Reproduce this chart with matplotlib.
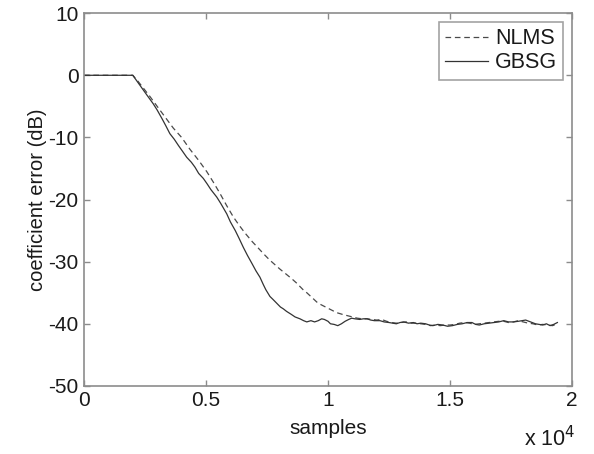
import matplotlib
matplotlib.use("Agg")
import matplotlib.pyplot as plt
from matplotlib.ticker import FuncFormatter

plt.rcParams['font.family'] = ['Liberation Sans', 'DejaVu Sans']
plt.rcParams['axes.unicode_minus'] = False

# samples (x1000) and coefficient error in dB
gbsg_k = [0, 2.0, 2.2, 2.4, 2.6, 2.84, 3.0, 3.2, 3.35, 3.52, 3.7, 3.87, 4.05, 4.21,
          4.4, 4.55, 4.7, 4.89, 5.05, 5.2, 5.32, 5.44, 5.6, 5.85, 6.0, 6.2, 6.35,
          6.53, 6.7, 6.87, 7.05, 7.21, 7.35, 7.45, 7.62, 7.75, 7.9, 8.05, 8.17,
          8.3, 8.5, 8.65, 8.85, 9.0, 9.13, 9.3, 9.45, 9.6, 9.74, 9.85, 10.0, 10.1,
          10.25, 10.4, 10.55, 10.7, 10.85, 10.97, 11.1, 11.3, 11.45, 11.6, 11.75,
          11.9, 12.13, 12.3, 12.5, 12.65, 12.8, 12.95, 13.1, 13.3, 13.5, 13.65,
          13.8, 14.0, 14.15, 14.3, 14.5, 14.7, 14.9, 15.1, 15.3, 15.5, 15.7, 15.9,
          16.05, 16.2, 16.4, 16.6, 16.8, 17.0, 17.2, 17.4, 17.6, 17.8, 18.1, 18.3,
          18.5, 18.65, 18.8, 18.95, 19.1, 19.25, 19.4]
gbsg_db = [0, 0, -1.1, -2.2, -3.3, -4.6, -5.6, -7.0, -8.1, -9.4, -10.3, -11.3, -12.3,
           -13.2, -14.0, -14.8, -15.8, -16.6, -17.5, -18.4, -19.0, -19.6, -20.6,
           -22.3, -23.6, -25.0, -26.2, -27.7, -29.0, -30.2, -31.5, -32.5, -33.7,
           -34.5, -35.6, -36.1, -36.7, -37.3, -37.6, -38.0, -38.5, -38.9, -39.2,
           -39.5, -39.7, -39.5, -39.7, -39.5, -39.2, -39.3, -39.6, -40.0, -40.1,
           -40.3, -40.0, -39.6, -39.3, -39.1, -39.2, -39.3, -39.2, -39.2, -39.4,
           -39.5, -39.5, -39.7, -39.8, -39.9, -40.0, -39.8, -39.7, -39.9, -39.8,
           -40.0, -39.9, -40.0, -40.2, -40.3, -40.1, -40.2, -40.4, -40.3, -40.1,
           -40.0, -39.8, -39.8, -40.1, -40.2, -40.0, -39.9, -39.8, -39.7, -39.5,
           -39.7, -39.7, -39.6, -39.4, -39.7, -40.0, -40.1, -40.2, -40.0, -40.3,
           -40.1, -39.8]

nlms_k = [0, 2.0, 2.2, 2.4, 2.7, 2.98, 3.3, 3.66, 4.0, 4.34, 4.7, 5.03, 5.3, 5.57,
          5.85, 6.12, 6.35, 6.6, 6.9, 7.21, 7.4, 7.6, 7.8, 8.03, 8.25, 8.5, 8.7,
          8.85, 9.0, 9.13, 9.35, 9.54, 9.7, 9.9, 10.1, 10.35, 10.6, 10.9, 11.2,
          11.4, 11.6, 11.8, 12.0, 12.2, 12.4, 12.6, 12.8, 13.0, 13.2, 13.4, 13.6,
          13.8, 14.0, 14.2, 14.4, 14.6, 14.8, 15.0, 15.2, 15.4, 15.6, 15.8, 16.0,
          16.2, 16.4, 16.6, 16.8, 17.0, 17.2, 17.4, 17.6, 17.8, 18.0, 18.2, 18.4,
          18.6, 18.8, 19.0, 19.2, 19.4]
nlms_db = [0, 0, -0.9, -1.9, -3.4, -4.9, -6.6, -8.5, -10.0, -11.9, -13.7, -15.5,
           -17.2, -19.0, -21.0, -22.8, -24.1, -25.4, -26.8, -28.1, -28.9, -29.7,
           -30.4, -31.2, -31.9, -32.7, -33.4, -34.0, -34.6, -35.0, -35.8, -36.5,
           -36.9, -37.3, -37.7, -38.2, -38.5, -38.8, -39.1, -39.2, -39.2, -39.3,
           -39.4, -39.3, -39.6, -39.8, -39.9, -39.8, -39.7, -39.9, -39.9, -40.0,
           -40.1, -40.3, -40.2, -40.3, -40.2, -40.2, -40.1, -39.9, -39.8, -39.9,
           -40.1, -40.0, -39.9, -39.8, -39.7, -39.6, -39.6, -39.8, -39.7, -39.5,
           -39.7, -39.9, -40.0, -40.2, -40.1, -40.2, -40.3, -40.0]

xticks = [0, 5000, 10000, 15000, 20000]
yticks = [-50, -40, -30, -20, -10, 0, 10]

axis_gray = '#8c8c8c'
text_col = '#1a1a1a'

fig = plt.figure(figsize=(5.94, 4.54), dpi=100)
ax = fig.add_axes([0.1414, 0.150, 0.8216, 0.821])

ax.plot([k * 1000 for k in nlms_k], nlms_db, color='#4a4a4a', lw=0.9,
        linestyle=(0, (4.5, 3)), label='NLMS')
ax.plot([k * 1000 for k in gbsg_k], gbsg_db, color='#333333', lw=0.9,
        label='GBSG')

ax.set_xlim(0, 20000)
ax.set_ylim(-50, 10)
ax.set_xticks(xticks)
ax.set_yticks(yticks)
ax.xaxis.set_major_formatter(FuncFormatter(lambda v, p: '%g' % (v / 1e4)))

for s in ax.spines.values():
    s.set_color(axis_gray)
    s.set_linewidth(1.2)
ax.tick_params(direction='in', length=4, width=1, color=axis_gray,
               top=True, right=True, labelsize=15, labelcolor=text_col, pad=4)

ax.set_xlabel('samples', fontsize=15, color=text_col, labelpad=6)
ax.set_ylabel('coefficient error (dB)', fontsize=14.5, color=text_col, labelpad=1)
fig.text(0.968, 0.006, r'x 10$^4$', ha='right', va='bottom', fontsize=15.5,
         color=text_col)

leg = ax.legend(loc='upper right', fontsize=15.5, frameon=True, fancybox=False,
                handlelength=2.0, handletextpad=0.3, borderpad=0.3,
                labelspacing=0.15, borderaxespad=0.4)
leg.get_frame().set_edgecolor(axis_gray)
leg.get_frame().set_linewidth(1.2)
for t in leg.get_texts():
    t.set_color(text_col)

fig.savefig('out.png', dpi=100)
